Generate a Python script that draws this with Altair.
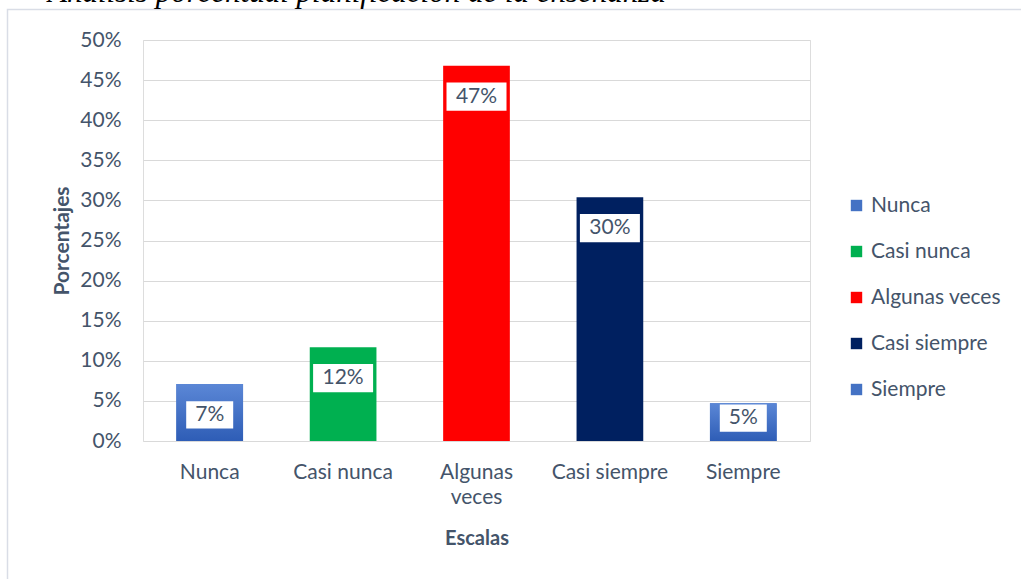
import altair as alt
import pandas as pd

categories = ["Nunca", "Casi nunca", "Algunas veces", "Casi siempre", "Siempre"]
values = [7.1, 11.7, 46.8, 30.4, 4.7]
labels = ["7%", "12%", "47%", "30%", "5%"]
colors = ["#4472C4", "#00B050", "#FF0000", "#002060", "#4472C4"]
y_ticks = [0, 5, 10, 15, 20, 25, 30, 35, 40, 45, 50]
title_text = "Análisis porcentual planificación de la enseñanza"

df = pd.DataFrame({"Escala": categories, "valor": values, "etiqueta": labels})

TEXT = "#44546A"
FONT = "Lato"
GRID = "#d9d9d9"

x_enc = alt.X(
    "Escala:N",
    sort=categories,
    scale=alt.Scale(paddingInner=0.5, paddingOuter=0.25),
    axis=alt.Axis(
        title="Escalas",
        labelAngle=0,
        labelFont=FONT,
        labelFontSize=21,
        labelColor=TEXT,
        labelPadding=20,
        labelLineHeight=25,
        labelExpr="datum.label == 'Algunas veces' ? ['Algunas', 'veces'] : datum.label",
        domain=False,
        ticks=False,
        grid=False,
        titleFont=FONT,
        titleFontSize=20,
        titleFontWeight="bold",
        titleColor=TEXT,
        titleY=97,
        titleBaseline="middle",
    ),
)

y_enc = alt.Y(
    "valor:Q",
    scale=alt.Scale(domain=[0, 50], nice=False),
    axis=alt.Axis(
        values=y_ticks,
        labelExpr="datum.value + '%'",
        labelFont=FONT,
        labelFontSize=21,
        labelColor=TEXT,
        labelPadding=22,
        domain=False,
        ticks=False,
        grid=True,
        gridColor=GRID,
        gridWidth=1.2,
        title="Porcentajes",
        titleFont=FONT,
        titleFontSize=21,
        titleFontWeight="bold",
        titleColor=TEXT,
        titleX=-81,
        titleY=200.5,
        titleAngle=270,
        titleAlign="center",
        titleBaseline="middle",
    ),
)

bars = alt.Chart(df).mark_bar().encode(
    x=x_enc,
    y=y_enc,
    color=alt.Color(
        "Escala:N",
        sort=categories,
        scale=alt.Scale(domain=categories, range=colors),
        legend=alt.Legend(
            title=None,
            orient="none",
            legendX=703,
            legendY=155,
            symbolType="square",
            symbolSize=130,
            symbolStrokeWidth=0,
            labelFont=FONT,
            labelFontSize=21,
            labelColor=TEXT,
            labelOffset=4,
            rowPadding=24,
            padding=0,
        ),
    ),
)

gradient = alt.Gradient(
    gradient="linear",
    stops=[
        alt.GradientStop(color="#5b87d6", offset=0),
        alt.GradientStop(color="#2e5db6", offset=1),
    ],
    x1=0, x2=0, y1=0, y2=1,
)

grad_bars = alt.Chart(df).transform_filter(
    alt.FieldOneOfPredicate(field="Escala", oneOf=["Nunca", "Siempre"])
).mark_bar(color=gradient).encode(
    x=alt.X("Escala:N", sort=categories),
    y=alt.Y("valor:Q"),
)

path_short = "M-1,-0.58L1,-0.58L1,0.58L-1,0.58Z"
path_long = "M-1,-0.47L1,-0.47L1,0.47L-1,0.47Z"

label_base = alt.Chart(df).transform_calculate(
    ypos="max(datum.valor - 3.85, 2.85)"
)

boxes = label_base.mark_point(filled=True, color="white", opacity=1, strokeWidth=0).encode(
    x=alt.X("Escala:N", sort=categories),
    y=alt.Y("ypos:Q"),
    shape=alt.condition("length(datum.etiqueta) > 2", alt.value(path_long), alt.value(path_short)),
    size=alt.condition("length(datum.etiqueta) > 2", alt.value(3600), alt.value(2209)),
)

texts = label_base.mark_text(font=FONT, fontSize=21, color=TEXT, baseline="middle").encode(
    x=alt.X("Escala:N", sort=categories),
    y=alt.Y("ypos:Q"),
    text="etiqueta:N",
)

frame = alt.Chart(alt.Data(values=[{}])).mark_rect(
    fill=None, stroke="#d9dde6", strokeWidth=1.5
).encode(
    x=alt.value(-135.5), x2=alt.value(900), y=alt.value(-30.5), y2=alt.value(560)
)

title = alt.Chart(alt.Data(values=[{"t": title_text}])).mark_text(
    font="Liberation Serif", fontStyle="italic", fontSize=31, color="#000000",
    align="left", baseline="alphabetic"
).encode(
    x=alt.value(-95), y=alt.value(-38), text="t:N"
)

chart = alt.layer(frame, title, bars, grad_bars, boxes, texts).properties(
    width=667,
    height=401,
    padding={"left": 143, "top": 40, "right": 211, "bottom": 138},
    autosize="none",
).configure_view(stroke=None).configure(background="white")

chart.save("out.html", embed_options={"renderer": "svg", "actions": False})
